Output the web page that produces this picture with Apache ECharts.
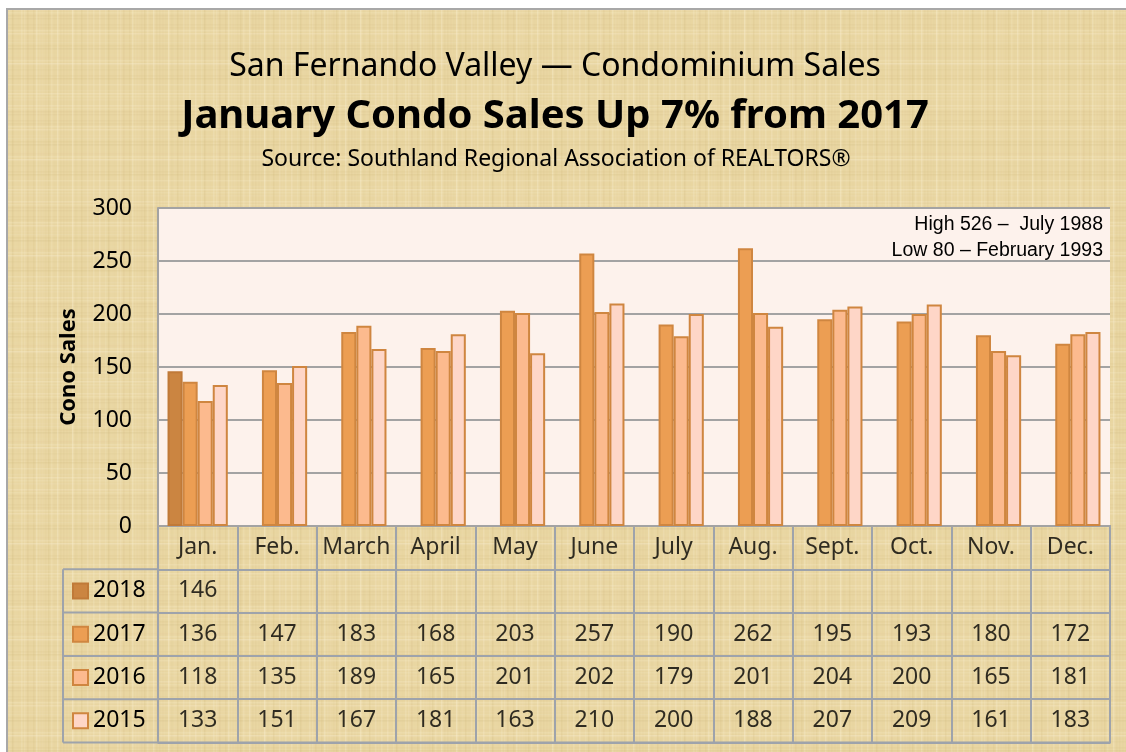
<!DOCTYPE html>
<html>
<head>
<meta charset="utf-8">
<title>San Fernando Valley — Condominium Sales</title>
<script src="https://cdn.jsdelivr.net/npm/echarts@6/dist/echarts.min.js"></script>
<style>
  html, body { margin: 0; padding: 0; background: #ffffff; }
  #chart { width: 1126px; height: 752px; }
</style>
</head>
<body>
<div id="chart"></div>
<script>
// Monthly condo sales, San Fernando Valley
const months = ['Jan.', 'Feb.', 'March', 'April', 'May', 'June', 'July', 'Aug.', 'Sept.', 'Oct.', 'Nov.', 'Dec.'];
const years = ['2018', '2017', '2016', '2015'];
const sales2018 = [146, null, null, null, null, null, null, null, null, null, null, null];
const sales2017 = [136, 147, 183, 168, 203, 257, 190, 262, 195, 193, 180, 172];
const sales2016 = [118, 135, 189, 165, 201, 202, 179, 201, 204, 200, 165, 181];
const sales2015 = [133, 151, 167, 181, 163, 210, 200, 188, 207, 209, 161, 183];
const yMin = 0, yMax = 300, yStep = 50;

const seriesValues = [sales2018, sales2017, sales2016, sales2015];
const fills = ['#cb8541', '#ec9e53', '#fcba8e', '#fed6c7'];
const edge = '#cf8640';
const gridLine = '#a3a3a3';
const tableLine = '#9ea3ab';
const baseFont = '"Noto Sans", "Open Sans", sans-serif';
const noteFont = '19.5px "Liberation Sans", Arial, sans-serif';

// Layout
const plotLeft = 158, plotTop = 208, plotWidth = 952, plotHeight = 318;
const tableTop = plotTop + plotHeight, rowH = 43.3, tableRows = 5;
const labelColLeft = 63;
const legendLine = 24;

// Parchment texture tile
function parchmentTile() {
  const c = document.createElement('canvas');
  c.width = 96; c.height = 96;
  const g = c.getContext('2d');
  g.fillStyle = '#e9d6a2';
  g.fillRect(0, 0, 96, 96);
  for (let i = 0; i < 96; i += 3) {
    const a = (Math.sin(i * 0.9) + Math.sin(i * 0.37)) * 0.5;
    g.fillStyle = a > 0 ? 'rgba(250,240,210,' + (a * 0.4) + ')' : 'rgba(205,180,120,' + (-a * 0.22) + ')';
    g.fillRect(i, 0, 1.5, 96);
    const b = (Math.sin(i * 0.61 + 1.3) + Math.sin(i * 0.23)) * 0.5;
    g.fillStyle = b > 0 ? 'rgba(250,240,210,' + (b * 0.35) + ')' : 'rgba(205,180,120,' + (-b * 0.2) + ')';
    g.fillRect(0, i, 96, 1.5);
  }
  return c;
}

// Cell texts of the data table (header row + one row per year)
const tableCells = [];
months.forEach((m, i) => tableCells.push([i, 0, m]));
seriesValues.forEach((vals, r) => {
  vals.forEach((v, i) => { if (v !== null) tableCells.push([i, r + 1, String(v)]); });
});

// Row-label column lines to the left of the table grid
const leftColLines = [];
for (let r = 1; r <= tableRows; r++) {
  const y = tableTop + r * rowH;
  leftColLines.push({ type: 'line', shape: { x1: labelColLeft, y1: y, x2: plotLeft, y2: y },
    style: { stroke: tableLine, lineWidth: 2 }, z: 5 });
}
leftColLines.push({ type: 'line', shape: { x1: labelColLeft, y1: tableTop + rowH, x2: labelColLeft, y2: tableTop + tableRows * rowH },
  style: { stroke: tableLine, lineWidth: 2 }, z: 5 });

const chart = echarts.init(document.getElementById('chart'));

const option = {
  animation: false,
  textStyle: { fontFamily: baseFont },
  graphic: [
    { type: 'rect', shape: { x: 7, y: 9, width: 1140, height: 760 },
      style: { fill: { image: parchmentTile(), repeat: 'repeat' }, stroke: '#a8a8a8', lineWidth: 2 }, z: -10, silent: true },
    { type: 'text', x: 555, y: 67, style: { text: 'San Fernando Valley — Condominium Sales', font: '32px ' + baseFont,
      fill: '#000', align: 'center', verticalAlign: 'middle' } },
    { type: 'text', x: 555, y: 117, style: { text: 'January Condo Sales Up 7% from 2017', font: 'bold 40px ' + baseFont,
      fill: '#000', align: 'center', verticalAlign: 'middle' } },
    { type: 'text', x: 556, y: 159, style: { text: 'Source: Southland Regional Association of REALTORS®', font: '23px ' + baseFont,
      fill: '#000', align: 'center', verticalAlign: 'middle' } },
    { type: 'text', x: 1103, y: 225, style: { text: 'High 526 –  July 1988', font: noteFont,
      fill: '#000', align: 'right', verticalAlign: 'middle' }, z: 10 },
    { type: 'text', x: 1103, y: 251, style: { text: 'Low 80 – February 1993', font: noteFont,
      fill: '#000', align: 'right', verticalAlign: 'middle' }, z: 10 }
  ].concat(leftColLines),
  legend: {
    data: years,
    orient: 'vertical',
    left: 72,
    top: tableTop + rowH * 1.5 - legendLine / 2,
    padding: 0,
    itemGap: rowH - legendLine,
    itemWidth: 15,
    itemHeight: 15,
    icon: 'rect',
    selectedMode: false,
    textStyle: { fontSize: 23, lineHeight: legendLine, color: '#000', fontFamily: baseFont }
  },
  grid: [
    { left: plotLeft, top: plotTop, width: plotWidth, height: plotHeight, show: true,
      backgroundColor: '#fdf2ec', borderWidth: 0, containLabel: false },
    { left: plotLeft, top: tableTop, width: plotWidth, height: tableRows * rowH, show: true,
      backgroundColor: 'transparent', borderColor: tableLine, borderWidth: 2, containLabel: false }
  ],
  xAxis: [
    { type: 'category', gridIndex: 0, data: months,
      axisLine: { show: true, lineStyle: { color: gridLine, width: 2 } },
      axisTick: { show: false }, axisLabel: { show: false }, splitLine: { show: false } },
    { type: 'category', gridIndex: 1, data: months,
      axisLine: { show: false }, axisTick: { show: false }, axisLabel: { show: false },
      splitLine: { show: true, lineStyle: { color: tableLine, width: 2 } } }
  ],
  yAxis: [
    { type: 'value', gridIndex: 0, min: yMin, max: yMax, interval: yStep,
      name: 'Cono Sales', nameLocation: 'middle', nameGap: 78, nameRotate: 90,
      nameTextStyle: { fontSize: 22, fontWeight: 'bold', color: '#000', fontFamily: baseFont },
      axisLine: { show: true, lineStyle: { color: gridLine, width: 2 } },
      axisTick: { show: false },
      axisLabel: { fontSize: 23, color: '#000', margin: 26, fontFamily: baseFont },
      splitLine: { show: true, lineStyle: { color: gridLine, width: 2 } } },
    { type: 'category', gridIndex: 1, data: ['Month'].concat(years), inverse: true,
      axisLine: { show: false }, axisTick: { show: false }, axisLabel: { show: false },
      splitLine: { show: true, lineStyle: { color: tableLine, width: 2 } } }
  ],
  series: years.map((y, k) => ({
    name: y,
    type: 'bar',
    xAxisIndex: 0,
    yAxisIndex: 0,
    data: seriesValues[k],
    barGap: '0%',
    barCategoryGap: '24%',
    itemStyle: { color: fills[k], borderColor: k === 0 ? '#c07a38' : edge, borderWidth: 2 },
    emphasis: { disabled: true },
    z: 3
  })).concat([{
    name: 'table',
    type: 'scatter',
    xAxisIndex: 1,
    yAxisIndex: 1,
    data: tableCells,
    symbol: 'rect',
    symbolSize: 1,
    itemStyle: { color: 'rgba(0,0,0,0)' },
    silent: true,
    label: { show: true, position: 'inside', formatter: p => p.data[2],
      fontSize: 23, color: '#000', fontFamily: baseFont }
  }])
};

chart.setOption(option);
</script>
</body>
</html>
